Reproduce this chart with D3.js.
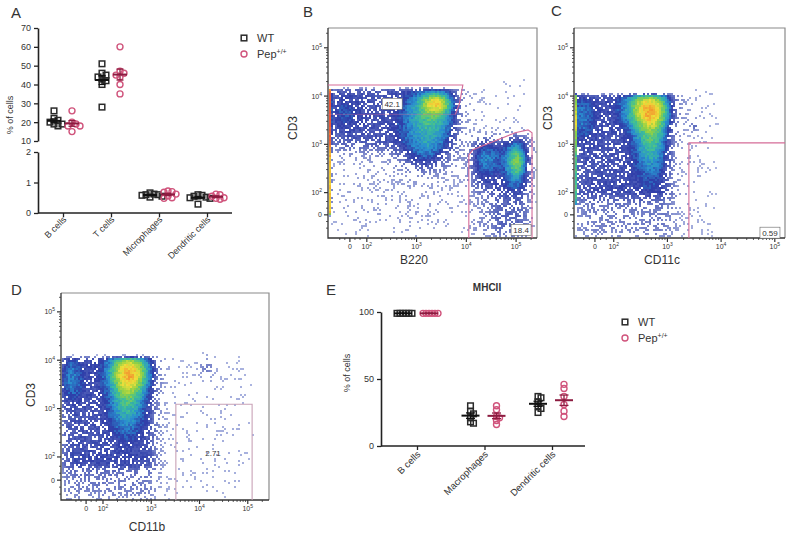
<!DOCTYPE html>
<html>
<head>
<meta charset="utf-8">
<script src="https://cdn.jsdelivr.net/npm/d3@7"></script>
<style>
  body { margin: 0; background: #fff; }
  text { font-family: "Liberation Sans", Arial, sans-serif; fill: #333; }
</style>
</head>
<body>
<svg id="fig" width="795" height="549"></svg>
<script>
// ---- data ----
const aCategories = ['B cells', 'T cells', 'Microphages', 'Dendritic cells']
const aWT = [
  [26, 22, 21, 20, 19, 19, 18],
  [51, 46, 45, 44, 43, 42, 40, 28],
  [0.66, 0.62, 0.6, 0.6, 0.58, 0.55, 0.52],
  [0.6, 0.58, 0.55, 0.52, 0.5, 0.48, 0.29]
]
const aPep = [
  [26, 20, 19, 18, 18, 15],
  [60, 47, 46, 45, 44, 40, 35],
  [0.72, 0.7, 0.68, 0.62, 0.56, 0.5, 0.48],
  [0.62, 0.6, 0.55, 0.5, 0.48, 0.45]
]
const aUpperTicks = [10, 20, 30, 40, 50, 60, 70]
const aLowerTicks = [0, 1, 2]

const eCategories = ['B cells', 'Macrophages', 'Dendritic cells']
const eWT = [
  [99, 99, 99, 99, 99, 99],
  [30, 26, 24, 21, 18, 17],
  [37, 36, 33, 30, 28, 25]
]
const ePep = [
  [99, 99, 99, 99, 99, 99],
  [30, 27, 22, 21, 19, 16],
  [46, 43, 37, 31, 26, 22]
]
const eTicks = [0, 50, 100]
const seriesNames = ['WT', 'Pep']

// flow axes: tick labels 0, 10^2 .. 10^5
const flowExponents = [null, 2, 3, 4, 5]

// populations in display units (decades on the logicle axis)
const bPopulations = [
  { type: 'box', x0: -0.45, x1: 2.15, y0: 1.35, y1: 2.62, w: 0.41, e: 0.1, eTop: 0.02 },
  { type: 'g', cx: -0.2, cy: 2.1, sx: 0.3, sy: 0.25, w: 0.14, top: 2.62 },
  { type: 'g', cx: 1.6, cy: 2.0, sx: 0.38, sy: 0.38, w: 0.4, top: 2.62 },
  { type: 'g', cx: 1.75, cy: 2.32, sx: 0.22, sy: 0.15, w: 0.48, top: 2.62 },
  { type: 'g', cx: 1.5, cy: 1.2, sx: 0.35, sy: 0.25, w: 0.34 },
  { type: 'box', x0: -0.45, x1: 2.4, y0: -0.5, y1: 1.4, w: 0.12, e: 0.15 },
  { type: 'box', x0: 2.2, x1: 3.7, y0: 1.7, y1: 2.9, w: 0.07, e: 0.1 },
  { type: 'box', x0: -0.5, x1: -0.38, y0: 0.0, y1: 2.62, w: 1.25, e: 0.01 },
  { type: 'box', x0: 2.45, x1: 3.64, y0: 0.55, y1: 1.62, w: 0.42, e: 0.08 },
  { type: 'box', x0: 2.9, x1: 3.64, y0: -0.5, y1: 0.6, w: 0.36, e: 0.08 },
  { type: 'box', x0: 2.45, x1: 2.95, y0: -0.5, y1: 0.6, w: 0.2, e: 0.08 },
  { type: 'g', cx: 3.35, cy: 1.1, sx: 0.15, sy: 0.3, w: 0.5 },
  { type: 'g', cx: 2.75, cy: 1.15, sx: 0.2, sy: 0.22, w: 0.22 }
]
const cPopulations = [
  { type: 'box', x0: -0.45, x1: 1.4, y0: 0.4, y1: 2.5, w: 0.42, e: 0.09, eTop: 0.02 },
  { type: 'g', cx: 1.0, cy: 2.2, sx: 0.3, sy: 0.3, w: 0.66, top: 2.5 },
  { type: 'g', cx: 1.05, cy: 1.5, sx: 0.22, sy: 0.5, w: 0.36, top: 2.5 },
  { type: 'g', cx: -0.3, cy: 2.0, sx: 0.2, sy: 0.35, w: 0.24, top: 2.5 },
  { type: 'box', x0: -0.45, x1: 1.45, y0: -0.55, y1: 0.5, w: 0.26, e: 0.1 },
  { type: 'box', x0: 1.3, x1: 2.3, y0: -0.55, y1: 2.8, w: 0.09, e: 0.12 },
  { type: 'g', cx: 1.85, cy: 1.85, sx: 0.06, sy: 0.08, w: 0.22 },
  { type: 'box', x0: -0.45, x1: -0.35, y0: 0.2, y1: 2.5, w: 0.9, e: 0.01 }
]
const dPopulations = [
  { type: 'box', x0: -0.55, x1: 1.45, y0: 0.3, y1: 2.55, w: 0.42, e: 0.09, eTop: 0.02 },
  { type: 'g', cx: 0.9, cy: 2.25, sx: 0.3, sy: 0.3, w: 0.66, top: 2.55 },
  { type: 'g', cx: 0.85, cy: 1.6, sx: 0.25, sy: 0.45, w: 0.36, top: 2.55 },
  { type: 'g', cx: -0.35, cy: 2.1, sx: 0.2, sy: 0.35, w: 0.24, top: 2.55 },
  { type: 'box', x0: -0.55, x1: 1.45, y0: -0.45, y1: 0.4, w: 0.28, e: 0.1 },
  { type: 'box', x0: 1.4, x1: 3.5, y0: -0.45, y1: 2.6, w: 0.08, e: 0.12 },
  { type: 'g', cx: 2.5, cy: 2.35, sx: 0.1, sy: 0.15, w: 0.22 }
]

const bGates = [
  { points: [[-0.44, 2.69], [2.27, 2.69], [2.2, 2.3], [2.12, 2.08]], label: '42.1', at: [0.85, 2.3], boxed: true },
  { points: [[2.12, 2.08], [-0.44, 2.08]], faint: true },
  { points: [[2.39, -0.48], [2.39, 1.24], [2.47, 1.35], [3.32, 1.7], [3.58, 1.76], [3.66, 1.7], [3.66, -0.48]], label: '18.4', at: [3.44, -0.31], boxed: true }
]
const cGates = [
  { points: [[1.75, -0.48], [1.75, 1.49], [3.54, 1.49]], label: '0.59', at: [3.26, -0.37], boxed: true }
]
const dGates = [
  { points: [[1.86, -0.41], [1.86, 1.57], [3.44, 1.57], [3.44, -0.41]], label: '2.71', at: [2.63, 0.56], boxed: false }
]

// ---- helpers ----
const svg = d3.select('#fig')
const wtColor = '#2a2a2a'
const pepColor = '#d0547c'
const wtMean = '#111'
const pepMean = '#8c1c40'

svg.append('defs').append('filter').attr('id', 'soft')
  .append('feGaussianBlur').attr('stdDeviation', 0.55)

const sig = v => 1 / (1 + Math.exp(-v))
function density(pops, x, y) {
  let d = 0
  for (const p of pops) {
    let v
    if (p.type === 'box') {
      const e = p.e
      v = p.w * sig((x - p.x0) / e) * sig((p.x1 - x) / e) * sig((y - p.y0) / e) * sig((p.y1 - y) / (p.eTop || e))
    } else {
      v = p.w * Math.exp(-0.5 * ((x - p.cx) / p.sx) ** 2 - 0.5 * ((y - p.cy) / p.sy) ** 2)
      if (p.top != null) v *= sig((p.top - y) / 0.02)
    }
    d += v
  }
  return d
}

// fixed hash texture for the grainy look of event plots
const frac = v => v - Math.floor(v)
const grain = (i, j) => frac(Math.sin(i * 12.9898 + j * 78.233) * 43758.5453)

const lowBlue = d3.interpolateRgb('#9aa4d8', '#3040aa')
const heat = d3.scaleLinear()
  .domain([0.5, 0.65, 0.8, 0.95, 1.1, 1.25, 1.4])
  .range(['#2f40aa', '#2a8fd0', '#3cbd9a', '#8fd046', '#eddf3a', '#f39a2f', '#ea5a3a'])
  .clamp(true)

function label(g, x, y, txt, opts = {}) {
  return g.append('text')
    .attr('x', x).attr('y', y)
    .attr('font-size', opts.size || 9)
    .attr('text-anchor', opts.anchor || 'start')
    .attr('font-weight', opts.weight || 'normal')
    .attr('transform', opts.rotate ? `rotate(${opts.rotate},${x},${y})` : null)
    .text(txt)
}

function swarm(values, cx, yScale, gap) {
  const placed = []
  values.slice().sort((a, b) => b - a).forEach(v => {
    const py = yScale(v)
    for (let k = 0; k < 20; k++) {
      const off = k === 0 ? 0 : (k % 2 ? 1 : -1) * Math.ceil(k / 2) * gap
      const px = cx + off
      if (!placed.some(p => Math.abs(p.x - px) < gap && Math.abs(p.y - py) < gap)) {
        placed.push({ x: px, y: py, v })
        break
      }
    }
  })
  return placed
}

function marker(g, shape, x, y, color) {
  if (shape === 'square') {
    g.append('rect').attr('x', x - 2.8).attr('y', y - 2.8).attr('width', 5.6).attr('height', 5.6)
      .attr('fill', 'none').attr('stroke', color).attr('stroke-width', 1.5)
  } else {
    g.append('circle').attr('cx', x).attr('cy', y).attr('r', 3)
      .attr('fill', 'none').attr('stroke', color).attr('stroke-width', 1.4)
  }
}

function meanSem(g, values, cx, yScale, half, color) {
  const m = d3.mean(values)
  const sem = d3.deviation(values) / Math.sqrt(values.length)
  g.append('line').attr('x1', cx - half).attr('x2', cx + half)
    .attr('y1', yScale(m)).attr('y2', yScale(m)).attr('stroke', color).attr('stroke-width', 2)
  g.append('line').attr('x1', cx).attr('x2', cx)
    .attr('y1', yScale(m - sem)).attr('y2', yScale(m + sem)).attr('stroke', color).attr('stroke-width', 1.3)
  ;[m - sem, m + sem].forEach(v => {
    g.append('line').attr('x1', cx - half / 2).attr('x2', cx + half / 2)
      .attr('y1', yScale(v)).attr('y2', yScale(v)).attr('stroke', color).attr('stroke-width', 1.3)
  })
}

function styleAxis(sel) {
  sel.attr('font-size', 9).attr('font-family', null)
  sel.select('.domain').attr('stroke', '#222').attr('stroke-width', 1.6)
  sel.selectAll('.tick line').attr('stroke', '#222').attr('stroke-width', 1.3)
  sel.selectAll('.tick text').attr('fill', '#333')
}

function legend(g, x, y) {
  marker(g, 'square', x, y, wtColor)
  label(g, x + 13, y + 4, seriesNames[0], { size: 11 })
  marker(g, 'circle', x, y + 16, pepColor)
  const t = label(g, x + 13, y + 20, seriesNames[1], { size: 11 })
  t.append('tspan').attr('font-size', 7).attr('dy', -4).text('+/+')
}

// ---- panel A ----
{
  const g = svg.append('g')
  label(g, 11, 18, 'A', { size: 15 })
  const x = d3.scalePoint().domain(aCategories).range([63, 207])
  const yUp = d3.scaleLinear().domain([10, 70]).range([141, 28])
  const yLo = d3.scaleLinear().domain([0, 2]).range([213, 152])
  const yv = v => (v >= 10 ? yUp(v) : yLo(v))

  g.append('g').attr('transform', 'translate(38,0)')
    .call(d3.axisLeft(yUp).tickValues(aUpperTicks).tickSize(4).tickSizeOuter(0).tickFormat(d3.format('d'))).call(styleAxis)
  g.append('g').attr('transform', 'translate(38,0)')
    .call(d3.axisLeft(yLo).tickValues(aLowerTicks).tickSize(4).tickSizeOuter(0).tickFormat(d3.format('d'))).call(styleAxis)
  g.append('line').attr('x1', 38).attr('x2', 232).attr('y1', 213).attr('y2', 213)
    .attr('stroke', '#222').attr('stroke-width', 1.6)
  g.append('g').attr('transform', 'translate(0,213)')
    .call(d3.axisBottom(x).tickSize(4).tickFormat('')).call(styleAxis)
    .select('.domain').remove()
  aCategories.forEach(c => label(g, x(c) + 4, 220, c, { anchor: 'end', rotate: -45 }))
  label(g, 13, 115, '% of cells', { anchor: 'middle', rotate: -90 })

  aCategories.forEach((c, i) => {
    const cw = x(c) - 9, cp = x(c) + 9
    swarm(aWT[i], cw, yv, 4).forEach(p => marker(g, 'square', p.x, p.y, wtColor))
    swarm(aPep[i], cp, yv, 4).forEach(p => marker(g, 'circle', p.x, p.y, pepColor))
    meanSem(g, aWT[i], cw, yv, 7, wtMean)
    meanSem(g, aPep[i], cp, yv, 7, pepMean)
  })
  legend(g, 244, 38)
}

// ---- flow panels ----
function drawFlow(spec) {
  const g = svg.append('g')
  const { l, r, t, b } = spec.box
  const x = d3.scaleLinear().domain(spec.xDomain).range([l, r])
  const y = d3.scaleLinear().domain(spec.yDomain).range([b, t])
  label(g, spec.letter[1], spec.letter[2], spec.letter[0], { size: 15 })

  const cell = 2
  const cells = []
  for (let i = 0, px = l + 1; px < r - 1; i++, px += cell) {
    for (let j = 0, py = t + 1; py < b - 1; j++, py += cell) {
      const d = density(spec.pops, x.invert(px + cell / 2), y.invert(py + cell / 2))
      const n = grain(i + spec.seed, j)
      if (d < 0.04) continue
      if (d < 0.5) {
        const p = (d - 0.04) / 0.46
        if (n < p * 0.9) cells.push({ px, py, c: lowBlue(Math.min(1, p + (n - 0.5) * 0.4)) })
      } else {
        cells.push({ px, py, c: heat(d + (n - 0.5) * 0.12) })
      }
    }
  }
  g.append('g').attr('filter', 'url(#soft)')
    .selectAll('rect').data(cells).join('rect')
    .attr('x', d => d.px).attr('y', d => d.py)
    .attr('width', cell).attr('height', cell)
    .attr('fill', d => d.c)

  // frame
  g.append('path').attr('d', `M${l},${t}H${r}V${b}`).attr('fill', 'none').attr('stroke', '#8a8a8a').attr('stroke-width', 1.2)
  g.append('path').attr('d', `M${l},${t}V${b}H${r}`).attr('fill', 'none').attr('stroke', '#333').attr('stroke-width', 1.3)

  // ticks
  const axisTicks = (z, dom) => {
    const major = [0, z, z + 1, z + 2, z + 3]
    const minor = [-0.6 * z, -0.3 * z, 0.3 * z, 0.6 * z]
    for (let k = 0; k < 4; k++) for (let m = 2; m < 10; m++) minor.push(z + k + Math.log10(m))
    return { major, minor: minor.filter(u => u > dom[0] && u < dom[1]) }
  }
  const xt = axisTicks(spec.xz, spec.xDomain)
  const yt = axisTicks(spec.yz, spec.yDomain)
  const tk = g.append('g').attr('stroke', '#333')
  xt.minor.forEach(u => tk.append('line').attr('x1', x(u)).attr('x2', x(u)).attr('y1', b).attr('y2', b + 2).attr('stroke-width', 0.8))
  yt.minor.forEach(u => tk.append('line').attr('x1', l - 2).attr('x2', l).attr('y1', y(u)).attr('y2', y(u)).attr('stroke-width', 0.8))
  xt.major.forEach(u => tk.append('line').attr('x1', x(u)).attr('x2', x(u)).attr('y1', b).attr('y2', b + 4).attr('stroke-width', 1.2))
  yt.major.forEach(u => tk.append('line').attr('x1', l - 4).attr('x2', l).attr('y1', y(u)).attr('y2', y(u)).attr('stroke-width', 1.2))

  const tickText = (sel, e) => {
    if (e == null) { sel.text('0'); return }
    sel.text('10')
    sel.append('tspan').attr('font-size', 5).attr('dy', -3).text(e)
  }
  xt.major.forEach((u, i) => {
    const t0 = g.append('text').attr('x', x(u)).attr('y', b + 11).attr('font-size', 7).attr('text-anchor', 'middle').attr('fill', '#444')
    tickText(t0, flowExponents[i])
  })
  yt.major.forEach((u, i) => {
    const t0 = g.append('text').attr('x', l - 6).attr('y', y(u) + 2.5).attr('font-size', 7).attr('text-anchor', 'end').attr('fill', '#444')
    tickText(t0, flowExponents[i])
  })

  // gates
  spec.gates.forEach(gt => {
    g.append('path').attr('d', d3.line().x(p => x(p[0])).y(p => y(p[1]))(gt.points))
      .attr('fill', 'none').attr('stroke', spec.gateColor)
      .attr('stroke-width', gt.faint ? 0.8 : 1.1).attr('stroke-opacity', gt.faint ? 0.45 : 1)
    if (!gt.label) return
    const tx = x(gt.at[0]), ty = y(gt.at[1])
    if (gt.boxed) {
      g.append('rect').attr('x', tx - 10).attr('y', ty - 5.5).attr('width', 20).attr('height', 11)
        .attr('fill', '#fff').attr('stroke', '#666').attr('stroke-width', 0.6)
    }
    g.append('text').attr('x', tx).attr('y', ty + 3).attr('font-size', 8).attr('text-anchor', 'middle').text(gt.label)
  })

  label(g, spec.xLabel[1], spec.xLabel[2], spec.xLabel[0], { size: 12, anchor: 'middle' })
  label(g, spec.yLabel[1], spec.yLabel[2], spec.yLabel[0], { size: 12, anchor: 'middle', rotate: -90 })
}

drawFlow({
  letter: ['B', 303, 17], seed: 0,
  box: { l: 328, r: 537, t: 28, b: 238 },
  xDomain: [-0.44, 3.76], xz: 0.34,
  yDomain: [-0.48, 3.87], yz: 0.46,
  pops: bPopulations, gates: bGates, gateColor: '#d56c98',
  xLabel: ['B220', 414, 264], yLabel: ['CD3', 297, 128]
})
drawFlow({
  letter: ['C', 551, 16], seed: 300,
  box: { l: 574, r: 785, t: 28, b: 238 },
  xDomain: [-0.39, 3.54], xz: 0.35,
  yDomain: [-0.48, 3.87], yz: 0.46,
  pops: cPopulations, gates: cGates, gateColor: '#d56c98',
  xLabel: ['CD11c', 662, 264], yLabel: ['CD3', 552, 118]
})
drawFlow({
  letter: ['D', 11, 295], seed: 600,
  box: { l: 61, r: 269, t: 293, b: 500 },
  xDomain: [-0.52, 3.79], xz: 0.35,
  yDomain: [-0.41, 3.87], yz: 0.48,
  pops: dPopulations, gates: dGates, gateColor: '#c9a2b6',
  xLabel: ['CD11b', 147, 531], yLabel: ['CD3', 35, 395]
})

// ---- panel E ----
{
  const g = svg.append('g')
  label(g, 326, 295, 'E', { size: 15 })
  label(g, 487, 291, 'MHCII', { size: 10, anchor: 'middle', weight: 'bold' })
  const x = d3.scalePoint().domain(eCategories).range([417, 552])
  const y = d3.scaleLinear().domain([0, 100]).range([446, 312])
  g.append('g').attr('transform', 'translate(381,0)')
    .call(d3.axisLeft(y).tickValues(eTicks).tickSize(4).tickSizeOuter(0)).call(styleAxis)
  g.append('line').attr('x1', 381).attr('x2', 585).attr('y1', 446).attr('y2', 446)
    .attr('stroke', '#222').attr('stroke-width', 1.6)
  g.append('g').attr('transform', 'translate(0,446)')
    .call(d3.axisBottom(x).tickSize(4).tickFormat('')).call(styleAxis)
    .select('.domain').remove()
  eCategories.forEach(c => label(g, x(c) + 4, 455, c, { anchor: 'end', rotate: -45, size: 9.5 }))
  label(g, 350, 373, '% of cells', { anchor: 'middle', rotate: -90 })

  eCategories.forEach((c, i) => {
    const cw = x(c) - 14, cp = x(c) + 12
    swarm(eWT[i], cw, y, 3).forEach(p => marker(g, 'square', p.x, p.y, wtColor))
    swarm(ePep[i], cp, y, 3).forEach(p => marker(g, 'circle', p.x, p.y, pepColor))
    meanSem(g, eWT[i], cw, y, 9, wtMean)
    meanSem(g, ePep[i], cp, y, 9, pepMean)
  })
  legend(g, 625, 322)
}
</script>
</body>
</html>
